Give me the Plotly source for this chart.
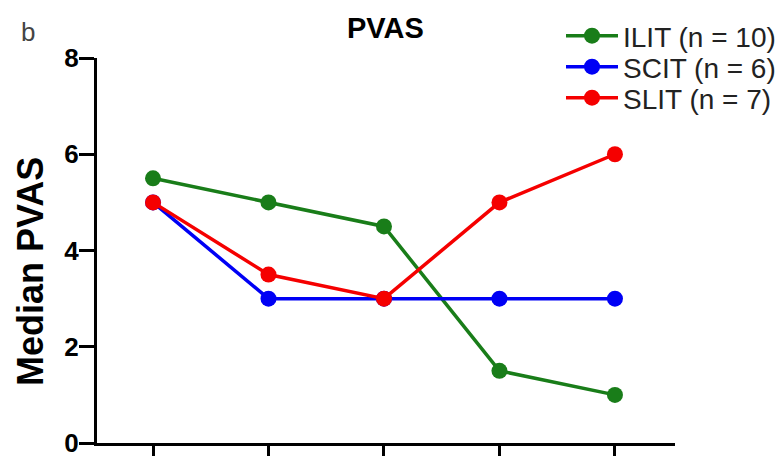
import plotly.graph_objects as go

timepoints = [0, 1, 2, 3, 4]
ilit = [5.5, 5.0, 4.5, 1.5, 1.0]
scit = [5.0, 3.0, 3.0, 3.0, 3.0]
slit = [5.0, 3.5, 3.0, 5.0, 6.0]
series_names = ["ILIT (n = 10)", "SCIT (n = 6)", "SLIT (n = 7)"]
colors = ["#197d19", "#0000f5", "#f50000"]
y_ticks = [0, 2, 4, 6, 8]

W, H = 783, 456
ML, MR, MT, MB = 97, 108, 58, 13
pw = W - ML - MR
ph = H - MT - MB


def px_x(x):
    return (x - ML) / pw


def px_y(y):
    return (H - MB - y) / ph


legend_keys = ["legend", "legend2", "legend3"]
legend_rows = [36, 67, 98]

fig = go.Figure()
for name, vals, c, lk in zip(series_names, [ilit, scit, slit], colors, legend_keys):
    fig.add_trace(go.Scatter(
        x=timepoints, y=vals, name=name, mode="lines+markers",
        line=dict(color=c, width=3.5),
        marker=dict(color=c, size=16),
        legend=lk,
    ))

leg_font = dict(size=28, family="Liberation Sans, Arial", color="#222")
legends = {}
for lk, row in zip(legend_keys, legend_rows):
    legends[lk] = dict(x=px_x(561), y=px_y(row), xanchor="left", yanchor="middle",
                       font=leg_font, bgcolor="rgba(0,0,0,0)", itemwidth=52)

fig.update_layout(
    width=W, height=H,
    margin=dict(l=ML, r=MR, t=MT, b=MB, autoexpand=False),
    plot_bgcolor="white", paper_bgcolor="white",
    font=dict(family="Liberation Sans, Arial", color="black"),
    showlegend=True,
    xaxis=dict(range=[-0.485, 4.52], showgrid=False, zeroline=False,
               showline=True, linecolor="black", linewidth=3,
               ticks="outside", ticklen=15, tickwidth=3, tickcolor="black",
               tickvals=timepoints, showticklabels=False),
    yaxis=dict(range=[0, 8], showgrid=False, zeroline=False,
               showline=True, linecolor="black", linewidth=3,
               ticks="outside", ticklen=15, tickwidth=3, tickcolor="black",
               tickvals=y_ticks, ticktext=[str(v) for v in y_ticks],
               ticklabelstandoff=-5, ticklabeloverflow="allow",
               tickfont=dict(size=26, family="Liberation Sans, Arial", color="black", weight="bold")),
    annotations=[
        dict(text="PVAS", x=px_x(385), y=px_y(28), xref="paper", yref="paper",
             xanchor="center", yanchor="middle",
             showarrow=False, font=dict(size=29, weight="bold")),
        dict(text="b", x=px_x(28), y=px_y(32), xref="paper", yref="paper",
             xanchor="center", yanchor="middle",
             showarrow=False, font=dict(size=26, family="Liberation Sans", color="#444")),
        dict(text="Median PVAS", x=px_x(30), y=px_y(272), xref="paper", yref="paper",
             xanchor="center", yanchor="middle", textangle=-90,
             showarrow=False, font=dict(size=36, weight="bold")),
    ],
    **legends,
)

fig.write_html("out.html")
